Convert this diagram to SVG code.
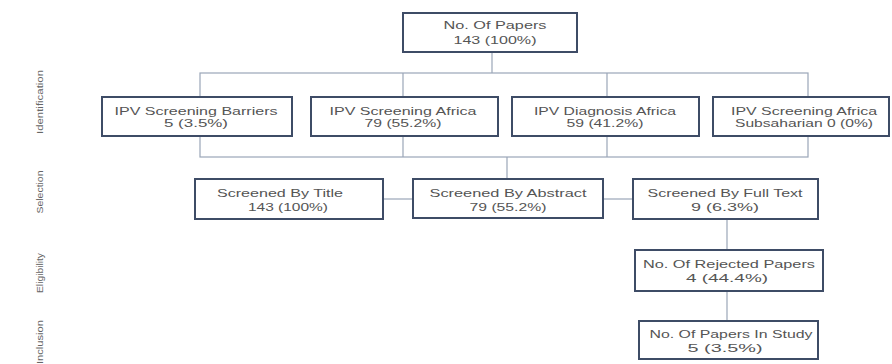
<svg xmlns="http://www.w3.org/2000/svg" width="892" height="364" viewBox="0 0 892 364">
<style>
.box{fill:#ffffff;stroke:#3e4c66;stroke-width:2}
.ln{fill:none;stroke:#9aa6b8;stroke-width:1.2}
.t{font-family:"Liberation Sans",Arial,sans-serif;font-size:11.5px;fill:#555555;text-anchor:middle}
.side{font-family:"Liberation Sans",Arial,sans-serif;font-size:9px;fill:#666666;text-anchor:middle}
</style>
<rect width="892" height="364" fill="#ffffff"/>
<g id="side-labels">
<text class="side" transform="translate(43,102) rotate(-90)" textLength="64" lengthAdjust="spacingAndGlyphs">Identification</text>
<text class="side" transform="translate(43,192) rotate(-90)" textLength="43" lengthAdjust="spacingAndGlyphs">Selection</text>
<text class="side" transform="translate(43,273) rotate(-90)" textLength="40" lengthAdjust="spacingAndGlyphs">Eligibility</text>
<text class="side" transform="translate(43,342) rotate(-90)" textLength="44" lengthAdjust="spacingAndGlyphs">Inclusion</text>
</g>
<g id="connectors">
<line class="ln" x1="492" y1="52" x2="492" y2="73"/>
<rect class="ln" x="200" y="73" width="608" height="84"/>
<line class="ln" x1="403" y1="73" x2="403" y2="157"/>
<line class="ln" x1="607" y1="73" x2="607" y2="157"/>
<line class="ln" x1="507" y1="157" x2="507" y2="179"/>
<line class="ln" x1="383" y1="199" x2="413" y2="199"/>
<line class="ln" x1="603" y1="199" x2="633" y2="199"/>
<line class="ln" x1="727" y1="219" x2="727" y2="250"/>
<line class="ln" x1="727" y1="291" x2="727" y2="321"/>
</g>
<g id="n-papers">
<rect class="box" x="403" y="13" width="174" height="39"/>
<text class="t" x="495" y="29" textLength="103" lengthAdjust="spacingAndGlyphs">No. Of Papers</text>
<text class="t" x="495" y="44" textLength="83" lengthAdjust="spacingAndGlyphs">143 (100%)</text>
</g>
<g id="n-barriers">
<rect class="box" x="102" y="97" width="190" height="39"/>
<text class="t" x="196" y="115" textLength="163" lengthAdjust="spacingAndGlyphs">IPV Screening Barriers</text>
<text class="t" x="196" y="127" textLength="64" lengthAdjust="spacingAndGlyphs">5 (3.5%)</text>
</g>
<g id="n-africa">
<rect class="box" x="311" y="97" width="187" height="39"/>
<text class="t" x="403" y="115" textLength="147" lengthAdjust="spacingAndGlyphs">IPV Screening Africa</text>
<text class="t" x="403" y="127" textLength="77" lengthAdjust="spacingAndGlyphs">79 (55.2%)</text>
</g>
<g id="n-diagnosis">
<rect class="box" x="512" y="97" width="187" height="39"/>
<text class="t" x="605" y="115" textLength="142" lengthAdjust="spacingAndGlyphs">IPV Diagnosis Africa</text>
<text class="t" x="605" y="127" textLength="77" lengthAdjust="spacingAndGlyphs">59 (41.2%)</text>
</g>
<g id="n-subsaharan">
<rect class="box" x="713" y="97" width="176" height="39"/>
<text class="t" x="804" y="115" textLength="146" lengthAdjust="spacingAndGlyphs">IPV Screening Africa</text>
<text class="t" x="804" y="127" textLength="138" lengthAdjust="spacingAndGlyphs">Subsaharian 0 (0%)</text>
</g>
<g id="n-title">
<rect class="box" x="195" y="179" width="188" height="40"/>
<text class="t" x="280" y="197" textLength="126" lengthAdjust="spacingAndGlyphs">Screened By Title</text>
<text class="t" x="288" y="211" textLength="80" lengthAdjust="spacingAndGlyphs">143 (100%)</text>
</g>
<g id="n-abstract">
<rect class="box" x="413" y="179" width="190" height="39"/>
<text class="t" x="508" y="197" textLength="157" lengthAdjust="spacingAndGlyphs">Screened By Abstract</text>
<text class="t" x="508" y="211" textLength="77" lengthAdjust="spacingAndGlyphs">79 (55.2%)</text>
</g>
<g id="n-fulltext">
<rect class="box" x="633" y="179" width="185" height="40"/>
<text class="t" x="725" y="197" textLength="155" lengthAdjust="spacingAndGlyphs">Screened By Full Text</text>
<text class="t" x="725" y="211" textLength="68" lengthAdjust="spacingAndGlyphs">9 (6.3%)</text>
</g>
<g id="n-rejected">
<rect class="box" x="635" y="250" width="188" height="41"/>
<text class="t" x="729" y="268" textLength="172" lengthAdjust="spacingAndGlyphs">No. Of Rejected Papers</text>
<text class="t" x="727" y="282" textLength="82" lengthAdjust="spacingAndGlyphs">4 (44.4%)</text>
</g>
<g id="n-study">
<rect class="box" x="639" y="321" width="179" height="38"/>
<text class="t" x="731" y="338" textLength="163" lengthAdjust="spacingAndGlyphs">No. Of Papers In Study</text>
<text class="t" x="725" y="352" textLength="75" lengthAdjust="spacingAndGlyphs">5 (3.5%)</text>
</g>
</svg>
